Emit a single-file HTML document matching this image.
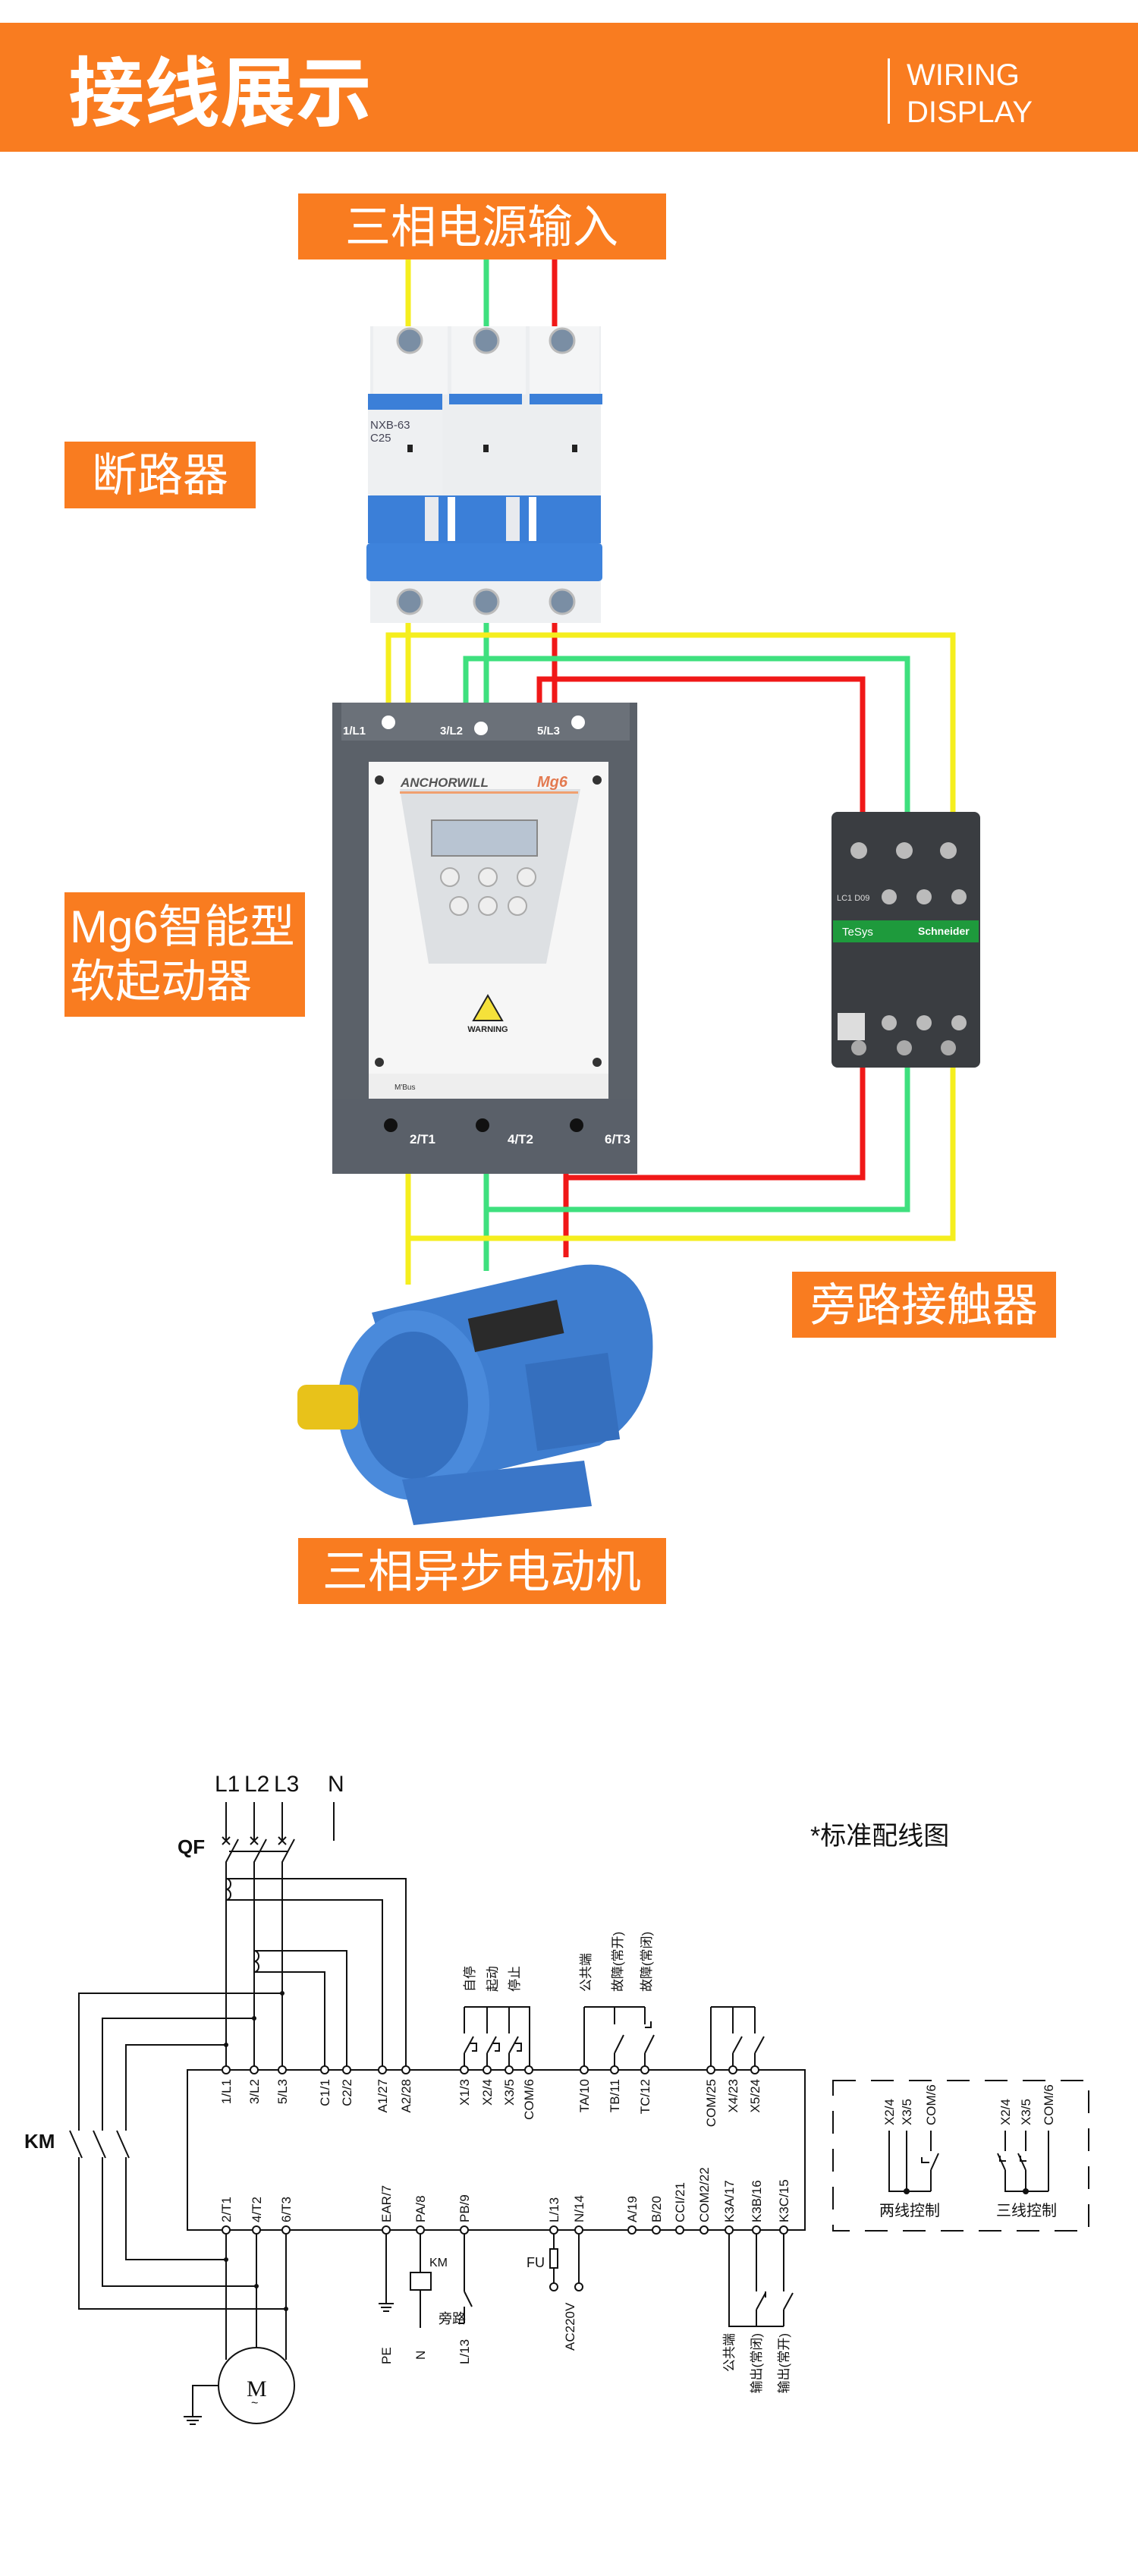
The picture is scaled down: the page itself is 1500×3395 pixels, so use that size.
<!DOCTYPE html>
<html><head><meta charset="utf-8"><style>
html,body{margin:0;padding:0;background:#fff;}
svg{display:block;}
.cn{font-family:"Liberation Sans","Noto Sans CJK SC",sans-serif;}
.lb{font-family:"Liberation Sans","Noto Sans CJK SC",sans-serif;font-size:17px;fill:#111;}
</style></head><body>
<svg width="1500" height="3395" viewBox="0 0 1500 3395" xmlns="http://www.w3.org/2000/svg">
<!-- header -->
<rect x="0" y="30" width="1500" height="170" fill="#F97C20"/>
<text x="90" y="158" class="cn" font-size="100" font-weight="bold" fill="#fff">接线展示</text>
<rect x="1170" y="77" width="3" height="86" fill="#fff"/>
<text x="1195" y="112" class="cn" font-size="40" fill="#fff">WIRING</text>
<text x="1195" y="161" class="cn" font-size="40" fill="#fff">DISPLAY</text>

<!-- labels -->
<rect x="393" y="255" width="485" height="87" fill="#F97C20"/>
<text x="635" y="320" class="cn" font-size="60" fill="#fff" text-anchor="middle">三相电源输入</text>
<rect x="85" y="582" width="252" height="88" fill="#F97C20"/>
<text x="211" y="647" class="cn" font-size="60" fill="#fff" text-anchor="middle">断路器</text>
<rect x="85" y="1176" width="317" height="164" fill="#F97C20"/>
<text x="92" y="1242" class="cn" font-size="60" fill="#fff">Mg6智能型</text>
<text x="92" y="1314" class="cn" font-size="60" fill="#fff">软起动器</text>
<rect x="1044" y="1676" width="348" height="87" fill="#F97C20"/>
<text x="1218" y="1741" class="cn" font-size="60" fill="#fff" text-anchor="middle">旁路接触器</text>
<rect x="393" y="2027" width="485" height="87" fill="#F97C20"/>
<text x="635" y="2092" class="cn" font-size="60" fill="#fff" text-anchor="middle">三相异步电动机</text>

<!-- wires -->
<g fill="none" stroke-width="7">
<path d="M538 342V440" stroke="#F5EE1E"/>
<path d="M641 342V440" stroke="#3EE07E"/>
<path d="M731 342V440" stroke="#F01818"/>
<path d="M538 815V930" stroke="#F5EE1E"/>
<path d="M641 815V930" stroke="#3EE07E"/>
<path d="M731 815V930" stroke="#F01818"/>
<path d="M512 930V837H1256V1075" stroke="#F5EE1E"/>
<path d="M614 930V868H1196V1075" stroke="#3EE07E"/>
<path d="M711 930V895H1137V1075" stroke="#F01818"/>
<path d="M538 1545V1693" stroke="#F5EE1E"/>
<path d="M641 1545V1675" stroke="#3EE07E"/>
<path d="M746 1545V1657" stroke="#F01818"/>
<path d="M538 1632H1256V1400" stroke="#F5EE1E"/>
<path d="M641 1594H1196V1400" stroke="#3EE07E"/>
<path d="M746 1552H1137V1400" stroke="#F01818"/>
</g>

<!-- breaker -->
<g>
<rect x="488" y="430" width="304" height="391" fill="#ECEEF0"/>
<rect x="492" y="430" width="98" height="90" fill="#F4F5F6"/><rect x="595" y="430" width="98" height="90" fill="#F4F5F6"/><rect x="698" y="430" width="92" height="90" fill="#F4F5F6"/>
<circle cx="540" cy="449" r="16" fill="#7a8ea4" stroke="#bbb" stroke-width="3"/>
<circle cx="641" cy="449" r="16" fill="#7a8ea4" stroke="#bbb" stroke-width="3"/>
<circle cx="741" cy="449" r="16" fill="#7a8ea4" stroke="#bbb" stroke-width="3"/>
<rect x="485" y="519" width="98" height="35" fill="#3B7FD8"/><rect x="592" y="519" width="96" height="14" fill="#3B7FD8"/><rect x="698" y="519" width="96" height="14" fill="#3B7FD8"/>
<rect x="485" y="540" width="98" height="112" fill="#EEF0F2"/>
<text x="488" y="565" class="cn" font-size="15" fill="#445">NXB-63</text>
<text x="488" y="582" class="cn" font-size="15" fill="#445">C25</text>
<rect x="537" y="586" width="7" height="10" fill="#222"/><rect x="637" y="586" width="7" height="10" fill="#222"/><rect x="754" y="586" width="7" height="10" fill="#222"/>
<rect x="485" y="653" width="307" height="63" fill="#3B7FD8"/>
<rect x="560" y="655" width="18" height="58" fill="#e8eaee"/><rect x="667" y="655" width="18" height="58" fill="#e8eaee"/><rect x="590" y="655" width="10" height="58" fill="#fff"/><rect x="697" y="655" width="10" height="58" fill="#fff"/>
<rect x="483" y="716" width="311" height="50" rx="5" fill="#3E83DC"/>
<rect x="488" y="766" width="304" height="55" fill="#EEF0F2"/>
<circle cx="540" cy="793" r="16" fill="#7a8ea4" stroke="#bbb" stroke-width="3"/>
<circle cx="641" cy="793" r="16" fill="#7a8ea4" stroke="#bbb" stroke-width="3"/>
<circle cx="741" cy="793" r="16" fill="#7a8ea4" stroke="#bbb" stroke-width="3"/>
</g>

<!-- soft starter -->
<g>
<rect x="438" y="926" width="402" height="621" fill="#5B6169"/>
<rect x="450" y="926" width="380" height="50" fill="#6B7179"/>
<text x="452" y="968" class="cn" font-size="15" fill="#fff" font-weight="bold">1/L1</text>
<text x="580" y="968" class="cn" font-size="15" fill="#fff" font-weight="bold">3/L2</text>
<text x="708" y="968" class="cn" font-size="15" fill="#fff" font-weight="bold">5/L3</text>
<circle cx="512" cy="952" r="9" fill="#fff"/><circle cx="634" cy="960" r="9" fill="#fff"/><circle cx="762" cy="952" r="9" fill="#fff"/>
<rect x="486" y="1004" width="316" height="444" fill="#F6F6F6"/>
<path d="M527 1040H765L720 1270H565Z" fill="#DDE0E3"/>
<text x="528" y="1037" class="cn" font-size="17" font-style="italic" font-weight="bold" fill="#555">ANCHORWILL</text>
<text x="708" y="1037" class="cn" font-size="20" font-style="italic" font-weight="bold" fill="#E37A50">Mg6</text>
<rect x="527" y="1043" width="235" height="3" fill="#F0A070"/>
<rect x="569" y="1081" width="139" height="47" fill="#B8C4D2" stroke="#888" stroke-width="2"/>
<g fill="#eee" stroke="#aaa" stroke-width="2"><circle cx="593" cy="1156" r="12"/><circle cx="643" cy="1156" r="12"/><circle cx="694" cy="1156" r="12"/><circle cx="605" cy="1194" r="12"/><circle cx="643" cy="1194" r="12"/><circle cx="682" cy="1194" r="12"/></g>
<path d="M624 1345 L643 1312 L662 1345Z" fill="#F5E13A" stroke="#222" stroke-width="2"/>
<text x="643" y="1360" class="cn" font-size="11" font-weight="bold" fill="#222" text-anchor="middle">WARNING</text>
<circle cx="500" cy="1028" r="6" fill="#333"/><circle cx="787" cy="1028" r="6" fill="#333"/><circle cx="500" cy="1400" r="6" fill="#333"/><circle cx="787" cy="1400" r="6" fill="#333"/>
<rect x="486" y="1415" width="316" height="33" fill="#EEE"/>
<text x="520" y="1436" class="cn" font-size="10" fill="#333">M'Bus</text>
<rect x="438" y="1448" width="402" height="99" fill="#5A6069"/>
<text x="557" y="1507" class="cn" font-size="17" font-weight="bold" fill="#fff" text-anchor="middle">2/T1</text>
<text x="686" y="1507" class="cn" font-size="17" font-weight="bold" fill="#fff" text-anchor="middle">4/T2</text>
<text x="814" y="1507" class="cn" font-size="17" font-weight="bold" fill="#fff" text-anchor="middle">6/T3</text>
<circle cx="515" cy="1483" r="9" fill="#111"/><circle cx="636" cy="1483" r="9" fill="#111"/><circle cx="760" cy="1483" r="9" fill="#111"/>
</g>

<!-- contactor -->
<g>
<rect x="1096" y="1070" width="196" height="337" rx="8" fill="#3A3D41"/>
<circle cx="1132" cy="1121" r="11" fill="#bbb"/><circle cx="1192" cy="1121" r="11" fill="#bbb"/><circle cx="1250" cy="1121" r="11" fill="#bbb"/>
<circle cx="1172" cy="1182" r="10" fill="#bbb"/><circle cx="1218" cy="1182" r="10" fill="#bbb"/><circle cx="1264" cy="1182" r="10" fill="#bbb"/>
<text x="1103" y="1187" class="cn" font-size="11" fill="#ddd">LC1 D09</text>
<rect x="1098" y="1213" width="192" height="29" fill="#1E9A3C"/>
<text x="1110" y="1233" class="cn" font-size="15" fill="#fff">TeSys</text>
<text x="1210" y="1232" class="cn" font-size="14" font-weight="bold" fill="#fff">Schneider</text>
<rect x="1104" y="1335" width="36" height="36" fill="#ddd"/>
<circle cx="1172" cy="1348" r="10" fill="#bbb"/><circle cx="1218" cy="1348" r="10" fill="#bbb"/><circle cx="1264" cy="1348" r="10" fill="#bbb"/>
<circle cx="1132" cy="1381" r="10" fill="#aaa"/><circle cx="1192" cy="1381" r="10" fill="#aaa"/><circle cx="1250" cy="1381" r="10" fill="#aaa"/>
</g>

<!-- motor -->
<g>
<path d="M490 1730 L760 1668 Q850 1655 860 1760 Q866 1860 790 1905 L560 1960 Z" fill="#3E7DCF"/>
<ellipse cx="545" cy="1852" rx="100" ry="125" fill="#4A8ADB"/>
<ellipse cx="545" cy="1852" rx="72" ry="97" fill="#3570C0"/>
<rect x="392" y="1825" width="80" height="59" rx="12" fill="#E8C21A"/>
<path d="M530 1950 L770 1925 L780 1985 L545 2010 Z" fill="#3A76C8"/>
<rect x="620" y="1725" width="120" height="45" fill="#2a2a2a" transform="rotate(-12 680 1747)"/>
<rect x="700" y="1790" width="110" height="115" fill="#356FBE" transform="rotate(-8 755 1850)"/>
</g>

<!-- ========== schematic ========== -->
<g stroke="#111" stroke-width="2" fill="none">
<path d="M298 2375V2426M335 2375V2426M372 2375V2426M440 2375V2426"/>
<path d="M293 2421l10 10M303 2421l-10 10M330 2421l10 10M340 2421l-10 10M367 2421l10 10M377 2421l-10 10"/>
<path d="M298 2470V2454l16-30M335 2470V2454l16-30M372 2470V2454l16-30"/>
<path d="M302 2440H380"/>
<path d="M298 2470V2728M335 2470V2728M372 2470V2728"/>
<path d="M298 2476a6 7 0 0 1 0 14a6 7 0 0 1 0 14"/>
<path d="M298 2476H535V2728M298 2504H504V2728"/>
<path d="M335 2571a6 7 0 0 1 0 14a6 7 0 0 1 0 14"/>
<path d="M335 2571H457V2728M335 2599H428V2728"/>
<path d="M247 2728H1061V2939H247Z"/>
<path d="M372 2627H104V2808M104 2843V3043H377"/>
<path d="M335 2660H135V2808M135 2843V3013H338"/>
<path d="M298 2695H166V2808M166 2843V2978H298"/>
<path d="M92 2808l16 36M123 2808l16 36M154 2808l16 36"/>
<path d="M298 2939V3110M338 2939V3095M377 2939V3110"/>
<circle cx="338" cy="3144" r="50"/>
<path d="M288 3144H254V3185M242 3185H266M246 3190H262M250 3195H258"/>
<path d="M612 2645H698V2728M612 2645V2680M642 2645V2680M671 2645V2680"/>
<path d="M612 2706V2728M642 2706V2728M671 2706V2728"/>
<path d="M612 2706l12-22M642 2706l12-22M671 2706l12-22"/>
<path d="M620 2693h8v10h-6M650 2693h8v10h-6M679 2693h8v10h-6"/>
<path d="M770 2645H850M770 2645V2728M810 2645V2668M850 2645V2668"/>
<path d="M810 2706V2728M810 2706l12-24M850 2706V2728M850 2706l12-24M850 2672h8v-8"/>
<path d="M937 2645H995M937 2645V2728M966 2645V2680M995 2645V2680M966 2706V2728M995 2706V2728M966 2706l12-22M995 2706l12-22"/>
<path d="M509 2939V3036M499 3036H519M502 3041H516M505 3046H513"/>
<path d="M554 2939V2995M554 3018V3068"/>
<rect x="541" y="2995" width="27" height="23"/>
<path d="M612 2939V3020M612 3020l10 20M612 3040V3062M604 3062H612"/>
<path d="M730 2939V2964M730 2989V3010M763 2939V3010"/>
<rect x="725" y="2964" width="10" height="25"/>
<path d="M961 2939V3066H1033M997 2939V3020M997 3044V3066M1033 2939V3020M1033 3044V3066"/>
<path d="M997 3044l12-22M1009 3020v8M1033 3044l12-22"/>
<path d="M1098 2742H1435V2940H1098Z" stroke-dasharray="30 20"/>
<path d="M1172 2808V2888H1227M1195 2808V2888M1227 2808V2835M1227 2860V2888M1227 2860l10-22M1215 2843v7h10"/>
<path d="M1325 2808V2835M1325 2860V2888H1382M1325 2860l-10-22M1352 2808V2835M1352 2860V2888M1352 2860l-10-22M1382 2808V2888M1318 2841v7h8M1345 2841v7h8"/>
</g>
<g fill="#fff" stroke="#111" stroke-width="2">
<circle cx="298" cy="2728" r="5"/><circle cx="335" cy="2728" r="5"/><circle cx="372" cy="2728" r="5"/><circle cx="428" cy="2728" r="5"/><circle cx="457" cy="2728" r="5"/><circle cx="504" cy="2728" r="5"/><circle cx="535" cy="2728" r="5"/><circle cx="612" cy="2728" r="5"/><circle cx="642" cy="2728" r="5"/><circle cx="671" cy="2728" r="5"/><circle cx="697" cy="2728" r="5"/><circle cx="770" cy="2728" r="5"/><circle cx="810" cy="2728" r="5"/><circle cx="850" cy="2728" r="5"/><circle cx="937" cy="2728" r="5"/><circle cx="966" cy="2728" r="5"/><circle cx="995" cy="2728" r="5"/>
<circle cx="298" cy="2939" r="5"/><circle cx="338" cy="2939" r="5"/><circle cx="377" cy="2939" r="5"/><circle cx="509" cy="2939" r="5"/><circle cx="554" cy="2939" r="5"/><circle cx="612" cy="2939" r="5"/><circle cx="730" cy="2939" r="5"/><circle cx="763" cy="2939" r="5"/><circle cx="833" cy="2939" r="5"/><circle cx="865" cy="2939" r="5"/><circle cx="896" cy="2939" r="5"/><circle cx="928" cy="2939" r="5"/><circle cx="961" cy="2939" r="5"/><circle cx="997" cy="2939" r="5"/><circle cx="1033" cy="2939" r="5"/>
<circle cx="730" cy="3014" r="5"/><circle cx="763" cy="3014" r="5"/>
</g>
<g fill="#111"><circle cx="298" cy="2695" r="3"/><circle cx="335" cy="2660" r="3"/><circle cx="372" cy="2627" r="3"/><circle cx="298" cy="2978" r="3"/><circle cx="338" cy="3013" r="3"/><circle cx="377" cy="3043" r="3"/><circle cx="1195" cy="2888" r="4"/><circle cx="1352" cy="2888" r="4"/></g>

<g class="cn" fill="#111">
<text x="283" y="2361" font-size="30">L1</text><text x="322" y="2361" font-size="30">L2</text><text x="361" y="2361" font-size="30">L3</text><text x="432" y="2361" font-size="30">N</text>
<text x="234" y="2443" font-size="26" font-weight="bold">QF</text>
<text x="32" y="2831" font-size="26" font-weight="bold">KM</text>
<text x="325" y="3158" font-size="30" font-family="Liberation Serif">M</text>
<text x="331" y="3172" font-size="16">~</text>
<text x="1068" y="2431" font-size="34">*标准配线图</text>
<text x="1199" y="2920" font-size="20" text-anchor="middle">两线控制</text>
<text x="1353" y="2920" font-size="20" text-anchor="middle">三线控制</text>
<text x="566" y="2987" font-size="16">KM</text>
<text x="578" y="3062" font-size="18">旁路</text>
<text x="694" y="2988" font-size="18">FU</text>
</g>
<g class="lb">
<text transform="translate(304,2740) rotate(-90)" text-anchor="end">1/L1</text>
<text transform="translate(341,2740) rotate(-90)" text-anchor="end">3/L2</text>
<text transform="translate(378,2740) rotate(-90)" text-anchor="end">5/L3</text>
<text transform="translate(434,2740) rotate(-90)" text-anchor="end">C1/1</text>
<text transform="translate(463,2740) rotate(-90)" text-anchor="end">C2/2</text>
<text transform="translate(510,2740) rotate(-90)" text-anchor="end">A1/27</text>
<text transform="translate(541,2740) rotate(-90)" text-anchor="end">A2/28</text>
<text transform="translate(618,2740) rotate(-90)" text-anchor="end">X1/3</text>
<text transform="translate(648,2740) rotate(-90)" text-anchor="end">X2/4</text>
<text transform="translate(677,2740) rotate(-90)" text-anchor="end">X3/5</text>
<text transform="translate(703,2740) rotate(-90)" text-anchor="end">COM/6</text>
<text transform="translate(776,2740) rotate(-90)" text-anchor="end">TA/10</text>
<text transform="translate(816,2740) rotate(-90)" text-anchor="end">TB/11</text>
<text transform="translate(856,2740) rotate(-90)" text-anchor="end">TC/12</text>
<text transform="translate(943,2740) rotate(-90)" text-anchor="end">COM/25</text>
<text transform="translate(972,2740) rotate(-90)" text-anchor="end">X4/23</text>
<text transform="translate(1001,2740) rotate(-90)" text-anchor="end">X5/24</text>
<text transform="translate(304,2929) rotate(-90)">2/T1</text>
<text transform="translate(344,2929) rotate(-90)">4/T2</text>
<text transform="translate(383,2929) rotate(-90)">6/T3</text>
<text transform="translate(515,2929) rotate(-90)">EAR/7</text>
<text transform="translate(560,2929) rotate(-90)">PA/8</text>
<text transform="translate(618,2929) rotate(-90)">PB/9</text>
<text transform="translate(736,2929) rotate(-90)">L/13</text>
<text transform="translate(769,2929) rotate(-90)">N/14</text>
<text transform="translate(839,2929) rotate(-90)">A/19</text>
<text transform="translate(871,2929) rotate(-90)">B/20</text>
<text transform="translate(902,2929) rotate(-90)">CCI/21</text>
<text transform="translate(934,2929) rotate(-90)">COM2/22</text>
<text transform="translate(967,2929) rotate(-90)">K3A/17</text>
<text transform="translate(1003,2929) rotate(-90)">K3B/16</text>
<text transform="translate(1039,2929) rotate(-90)">K3C/15</text>
<text transform="translate(625,2625) rotate(-90)">自停</text>
<text transform="translate(655,2625) rotate(-90)">起动</text>
<text transform="translate(684,2625) rotate(-90)">停止</text>
<text transform="translate(778,2625) rotate(-90)">公共端</text>
<text transform="translate(820,2625) rotate(-90)">故障(常开)</text>
<text transform="translate(858,2625) rotate(-90)">故障(常闭)</text>
<text transform="translate(515,3116) rotate(-90)">PE</text>
<text transform="translate(560,3110) rotate(-90)">N</text>
<text transform="translate(618,3116) rotate(-90)">L/13</text>
<text transform="translate(757,3098) rotate(-90)">AC220V</text>
<text transform="translate(967,3075) rotate(-90)" text-anchor="end">公共端</text>
<text transform="translate(1003,3075) rotate(-90)" text-anchor="end">输出(常闭)</text>
<text transform="translate(1039,3075) rotate(-90)" text-anchor="end">输出(常开)</text>
<text transform="translate(1178,2801) rotate(-90)">X2/4</text>
<text transform="translate(1201,2801) rotate(-90)">X3/5</text>
<text transform="translate(1233,2801) rotate(-90)">COM/6</text>
<text transform="translate(1331,2801) rotate(-90)">X2/4</text>
<text transform="translate(1358,2801) rotate(-90)">X3/5</text>
<text transform="translate(1388,2801) rotate(-90)">COM/6</text>
</g>
</svg>
</body></html>
